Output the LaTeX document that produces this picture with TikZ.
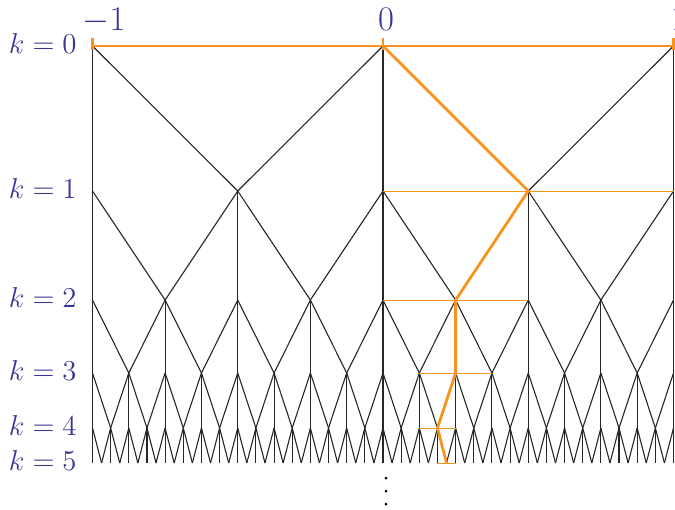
\documentclass[tikz,border=0pt]{standalone}
\usepackage{amsmath}
\usepackage{tikz}
\definecolor{lvlblue}{RGB}{55,55,150}
\definecolor{pathorange}{RGB}{247,148,30}

\begin{document}
\begin{tikzpicture}[
    x=0.5pt, y=-0.5pt,
    edge/.style={draw=black!85, line width=0.55pt},
    interval/.style={draw=pathorange, line width=0.5pt},
    walk/.style={draw=pathorange, line width=1.4pt, line join=round},
    tick/.style={draw=pathorange, line width=1.1pt},
    level/.style={text=lvlblue, font=\fontsize{14}{17}\selectfont, inner sep=0pt, anchor=base east},
    axis/.style={text=lvlblue, font=\fontsize{17.5}{21}\selectfont, inner sep=0pt, anchor=base}
]
\useasboundingbox (0,0) rectangle (675,509);

% grid points: level k holds i = 0..2^(k+1)
\foreach \k/\yy in {0/46,1/191,2/300,3/373,4/428,5/463}{
  \pgfmathtruncatemacro\imax{2^(\k+1)}
  \foreach \i in {0,...,\imax}
    \coordinate (n-\k-\i) at ({92.5+\i/2^\k*290.5},\yy);
  \node[level] (k\k) at (77,\yy+7) {$k=\k$};
}

% tree edges: each point splits into three
\foreach \k in {0,...,4}{
  \pgfmathtruncatemacro\imax{2^(\k+1)}
  \pgfmathtruncatemacro\kk{\k+1}
  \foreach \i in {0,...,\imax}{
    \pgfmathtruncatemacro\cdn{2*\i}
    \pgfmathtruncatemacro\clf{2*\i-1}
    \pgfmathtruncatemacro\crt{2*\i+1}
    \draw[edge] (n-\k-\i) -- (n-\kk-\cdn);
    \ifnum\i>0 \draw[edge] (n-\k-\i) -- (n-\kk-\clf); \fi
    \ifnum\i<\imax \draw[edge] (n-\k-\i) -- (n-\kk-\crt); \fi
  }
}

% nested intervals
\foreach \k/\a/\b in {1/2/4,2/4/6,3/9/11,4/18/20,5/38/40}
  \draw[interval] (n-\k-\a) -- (n-\k-\b);
\draw[walk] (n-0-0) -- (n-0-2);
\foreach \i in {0,1,2}
  \draw[tick] (n-0-\i) ++(0,-8) -- ++(0,12);
\draw[walk] (n-0-1) -- (n-1-3) -- (n-2-5) -- (n-3-10) -- (n-4-19) -- (n-5-39);

% axis labels
\node[axis] (xm1) at (104,30) {$-1$};
\node[axis] (x0) at (386,30) {$0$};
\node[axis] (x1) at (679,30) {$1$};

\foreach \yy in {478,491,504}
  \fill (386,\yy) circle[radius=1.5];
\end{tikzpicture}
\end{document}
